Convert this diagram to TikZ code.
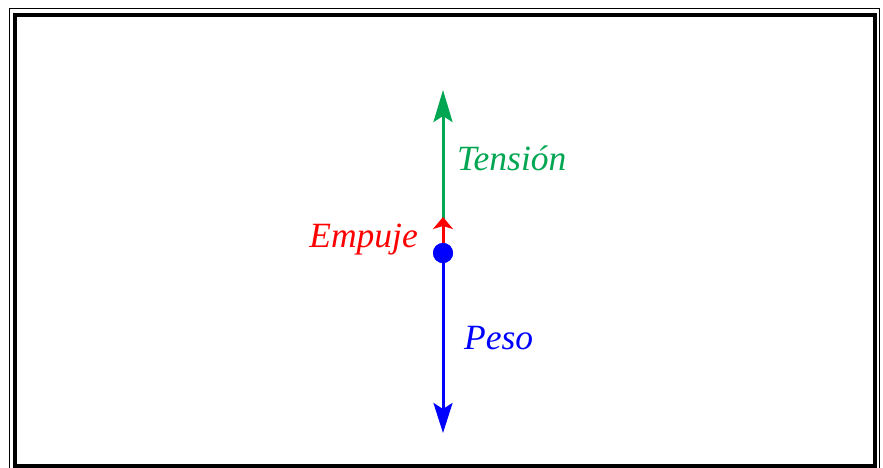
\documentclass[tikz,border=0pt]{standalone}
\usepackage{fontspec}
\setmainfont{Liberation Serif}
\usepackage{xcolor}
\usetikzlibrary{arrows.meta, positioning}
\definecolor{tensiongreen}{RGB}{0,166,81}
\tikzset{
  force/.style={line width=3pt, -{Stealth[length=32pt, width=19pt, inset=6pt]}},
  forcelabel/.style={inner sep=0pt, font=\fontsize{35.5}{40}\selectfont\itshape}
}

\begin{document}
\begin{tikzpicture}[x=1pt, y=-1pt]
    \useasboundingbox (0,0) rectangle (883,467);
    % marco
    \draw[line width=1pt] (9,8.5) rectangle (879.5,471);
    \draw[line width=4pt] (15,14.5) rectangle (875,466);

    \coordinate (tensiontip) at (443,90);
    \coordinate (empujetip) at (443,217);
    \coordinate (pesotip) at (443,433);
    \node[circle, fill=blue, inner sep=0pt, minimum size=20pt] (body) at (443,253) {};

    \draw[force, tensiongreen] (body.center) -- (tensiontip);
    \draw[force, red, -{Stealth[length=12pt, width=20pt, inset=3pt]}] (body.north) -- (empujetip);
    \draw[force, blue, -{Stealth[length=30pt, width=19pt, inset=6pt]}] (body.south) -- (pesotip);
    \node[circle, fill=blue, inner sep=0pt, minimum size=20pt] at (body) {};

    \node[forcelabel, tensiongreen, anchor=base west] (tension) at (457,170) {Tensión};
    \node[forcelabel, red, anchor=base east] (empuje) at (418,247) {Empuje};
    \node[forcelabel, blue, anchor=base west] (peso) at (464,349) {Peso};
\end{tikzpicture}
\end{document}
